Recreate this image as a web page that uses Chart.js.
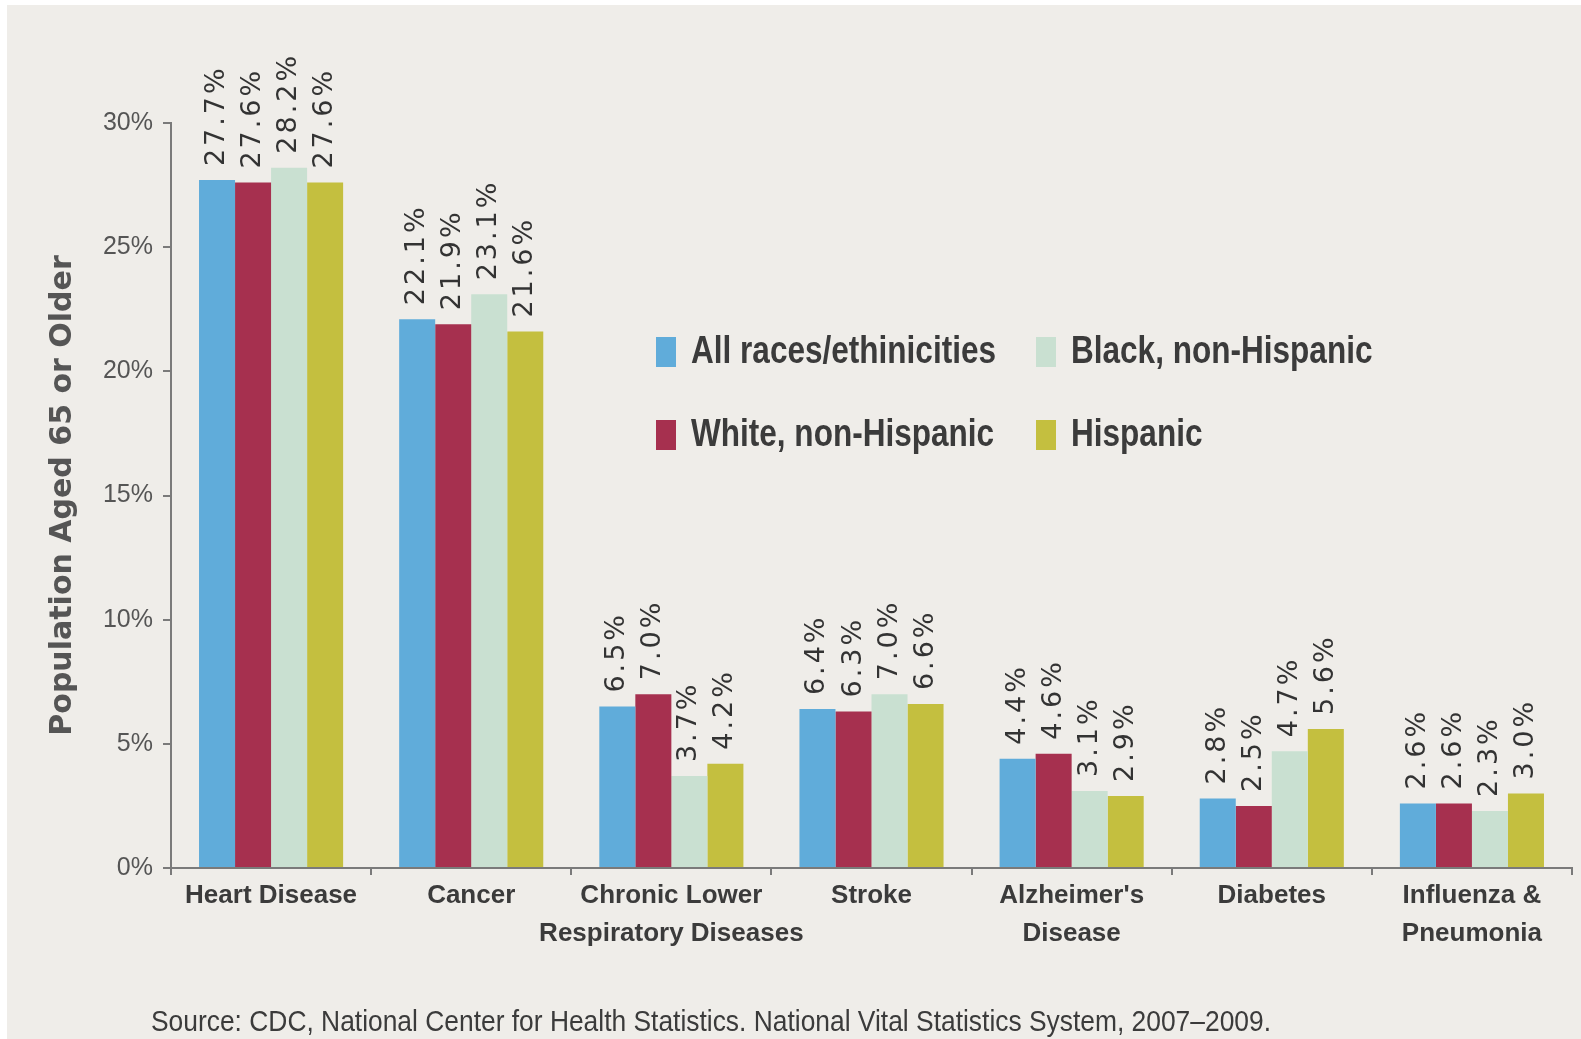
<!DOCTYPE html>
<html>
<head>
<meta charset="utf-8">
<script src="https://cdn.jsdelivr.net/npm/chart.js@4.4.1/dist/chart.umd.min.js"></script>
<style>
  html, body { margin: 0; padding: 0; background: #ffffff; }
  #wrap { position: relative; width: 1581px; height: 1039px; }
</style>
</head>
<body>
<div id="wrap"><canvas id="chart" width="1581" height="1039"></canvas></div>
<script>
// Leading causes of death, population aged 65 or older, by race/ethnicity (%)
const categories = [
  'Heart Disease',
  'Cancer',
  ['Chronic Lower', 'Respiratory Diseases'],
  'Stroke',
  ["Alzheimer's", 'Disease'],
  'Diabetes',
  ['Influenza &', 'Pneumonia']
];
const seriesNames = ['All races/ethinicities', 'White, non-Hispanic', 'Black, non-Hispanic', 'Hispanic'];
const allRaces     = [27.7, 22.1, 6.5, 6.4, 4.4, 2.8, 2.6];
const whiteNonHisp = [27.6, 21.9, 7.0, 6.3, 4.6, 2.5, 2.6];
const blackNonHisp = [28.2, 23.1, 3.7, 7.0, 3.1, 4.7, 2.3];
const hispanic     = [27.6, 21.6, 4.2, 6.6, 2.9, 5.6, 3.0];
const yTicks = [0, 5, 10, 15, 20, 25, 30];
const axisTitle = 'Population Aged 65 or Older';
const sourceNote = 'Source: CDC, National Center for Health Statistics. National Vital Statistics System, 2007\u20132009.';

const colors = ['#60acda', '#a6304f', '#c9e0d1', '#c4bf3f'];
const SANS = "'Liberation Sans', Arial, sans-serif";
const TEXT = '#3b3b3b';
const AXIS = '#7a7a7a';

// draw text squeezed horizontally so it reads like a condensed face
function condensedText(ctx, text, x, y, squeeze) {
  ctx.save();
  ctx.translate(x, y);
  ctx.scale(squeeze, 1);
  ctx.fillText(text, 0, 0);
  ctx.restore();
}

// page background with thin white margin at top/left
const backdrop = {
  id: 'backdrop',
  beforeDraw(chart) {
    const { ctx, width, height } = chart;
    ctx.save();
    ctx.fillStyle = '#ffffff';
    ctx.fillRect(0, 0, width, height);
    ctx.fillStyle = '#efede9';
    ctx.fillRect(7, 5, width - 7, height - 5);
    ctx.restore();
  }
};

// rotated value labels above each bar
const valueLabels = {
  id: 'valueLabels',
  afterDatasetsDraw(chart) {
    const { ctx } = chart;
    ctx.save();
    ctx.fillStyle = '#333333';
    ctx.font = "27px 'DejaVu Sans', sans-serif";
    if ('letterSpacing' in ctx) ctx.letterSpacing = '3px';
    ctx.textAlign = 'left';
    ctx.textBaseline = 'middle';
    chart.data.datasets.forEach((ds, di) => {
      const meta = chart.getDatasetMeta(di);
      meta.data.forEach((bar, i) => {
        const v = ds.data[i];
        ctx.save();
        ctx.translate(bar.x, bar.y - 14);
        ctx.rotate(-Math.PI / 2);
        ctx.fillText(v.toFixed(1) + '%', 0, 0);
        ctx.restore();
      });
    });
    ctx.restore();
  }
};

// two-column legend placed inside the plot
const innerLegend = {
  id: 'innerLegend',
  afterDraw(chart) {
    const { ctx } = chart;
    const cols = [656, 1036];
    const rows = [352, 435];
    const order = [[0, 0, 0], [1, 0, 1], [2, 1, 0], [3, 1, 1]];
    ctx.save();
    ctx.font = "bold 38px " + SANS;
    ctx.textBaseline = 'middle';
    ctx.textAlign = 'left';
    order.forEach(([di, c, r]) => {
      const ds = chart.data.datasets[di];
      ctx.fillStyle = ds.backgroundColor;
      ctx.fillRect(cols[c], rows[r] - 15, 20, 30);
      ctx.fillStyle = TEXT;
      condensedText(ctx, ds.label, cols[c] + 35, rows[r] + 1, 0.83);
    });
    ctx.restore();
  }
};

// source note under the chart
const sourceLine = {
  id: 'sourceLine',
  afterDraw(chart) {
    const { ctx } = chart;
    ctx.save();
    ctx.font = "29px " + SANS;
    ctx.fillStyle = TEXT;
    ctx.textAlign = 'left';
    ctx.textBaseline = 'alphabetic';
    const w = ctx.measureText(sourceNote).width;
    condensedText(ctx, sourceNote, 151, 1031, Math.min(1, 1120 / w));
    ctx.restore();
  }
};

const seriesData = [allRaces, whiteNonHisp, blackNonHisp, hispanic];

new Chart(document.getElementById('chart'), {
  type: 'bar',
  data: {
    labels: categories,
    datasets: seriesData.map((d, i) => ({
      label: seriesNames[i],
      data: d,
      backgroundColor: colors[i],
      borderWidth: 0,
      categoryPercentage: 0.72,
      barPercentage: 1.0
    }))
  },
  options: {
    responsive: false,
    animation: false,
    layout: { padding: { left: 7, top: 123, right: 9, bottom: 71 } },
    plugins: {
      legend: { display: false },
      tooltip: { enabled: false },
      title: { display: false }
    },
    scales: {
      x: {
        afterFit(scale) { scale.height = 100; },
        grid: {
          offset: true,
          drawOnChartArea: false,
          drawTicks: true,
          tickLength: 7,
          color: AXIS,
          lineWidth: 2
        },
        border: { display: true, color: AXIS, width: 2 },
        ticks: {
          color: TEXT,
          font: { family: SANS, size: 26, weight: 'bold', lineHeight: 1.45 },
          padding: 2,
          maxRotation: 0,
          autoSkip: false
        }
      },
      y: {
        min: 0,
        max: 30,
        afterFit(scale) { scale.width = 164; },
        afterBuildTicks(scale) { scale.ticks = yTicks.map(v => ({ value: v })); },
        grid: {
          drawOnChartArea: false,
          drawTicks: true,
          tickLength: 8,
          color: AXIS,
          lineWidth: 2
        },
        border: { display: true, color: AXIS, width: 2 },
        ticks: {
          color: '#555555',
          font: { family: SANS, size: 25 },
          padding: 10,
          callback: v => v + '%'
        },
        title: {
          display: true,
          text: axisTitle,
          color: '#555555',
          font: { family: "'DejaVu Sans', sans-serif", size: 30, weight: 'bold' },
          padding: { top: 38, bottom: 0 }
        }
      }
    }
  },
  plugins: [backdrop, valueLabels, innerLegend, sourceLine]
});
</script>
</body>
</html>
